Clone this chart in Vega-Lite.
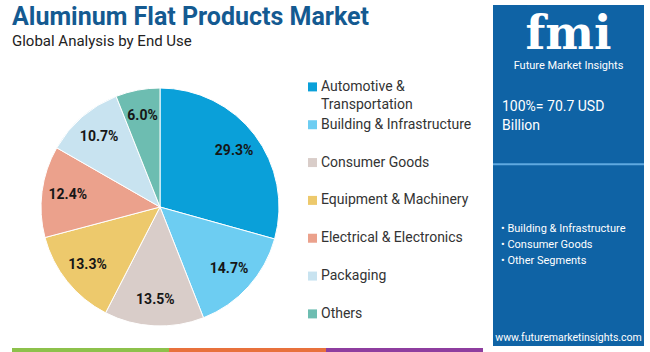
{
  "$schema": "https://vega.github.io/schema/vega-lite/v6.json",
  "padding": {"left": 12, "top": 5, "right": 0, "bottom": 0},
  "background": "white",
  "config": {"view": {"stroke": null}, "font": "Roboto"},
  "resolve": {"scale": {"color": "independent"}},
  "spacing": 9,
  "hconcat": [
    {
      "spacing": 0,
      "resolve": {"scale": {"color": "independent"}},
      "vconcat": [
        {
          "width": 471,
          "height": 61,
          "encoding": {
            "y": {
              "field": "part", "type": "nominal", "axis": null,
              "scale": {"type": "point", "domain": ["title", "subtitle"], "padding": 1.243, "align": 0.5}
            },
            "x": {"value": 0}
          },
          "layer": [
            {
              "data": {"values": [{"part": "title", "text": "Aluminum Flat Products Market"}]},
              "mark": {"type": "text", "align": "left", "baseline": "alphabetic", "font": "Roboto", "fontSize": 25, "fontWeight": "bold", "fill": "#145a91"},
              "encoding": {"text": {"field": "text", "type": "nominal"}}
            },
            {
              "data": {"values": [{"part": "subtitle", "text": "Global Analysis by End Use"}]},
              "mark": {"type": "text", "align": "left", "baseline": "alphabetic", "font": "Roboto", "fontSize": 15, "fill": "#222222"},
              "encoding": {"text": {"field": "text", "type": "nominal"}}
            }
          ]
        },
        {
          "spacing": 0,
          "hconcat": [
            {
              "width": 296,
              "height": 282,
              "data": {"values": [
                {"cat": "Automotive & Transportation", "share": 29.3, "label": "29.3%", "k": 1},
                {"cat": "Building & Infrastructure", "share": 14.7, "label": "14.7%", "k": 2},
                {"cat": "Consumer Goods", "share": 13.5, "label": "13.5%", "k": 3},
                {"cat": "Equipment & Machinery", "share": 13.3, "label": "13.3%", "k": 4},
                {"cat": "Electrical & Electronics", "share": 12.4, "label": "12.4%", "k": 5},
                {"cat": "Packaging", "share": 10.7, "label": "10.7%", "k": 6},
                {"cat": "Others", "share": 6.0, "label": "6.0%", "k": 7}
              ]},
              "encoding": {
                "theta": {"field": "share", "type": "quantitative", "stack": true},
                "order": {"field": "k", "type": "quantitative"}
              },
              "layer": [
                {
                  "mark": {"type": "arc", "outerRadius": 119, "stroke": "#ffffff", "strokeWidth": 1},
                  "encoding": {
                    "color": {
                      "field": "cat", "type": "nominal", "legend": null,
                      "scale": {
                        "domain": ["Automotive & Transportation", "Building & Infrastructure", "Consumer Goods", "Equipment & Machinery", "Electrical & Electronics", "Packaging", "Others"],
                        "range": ["#0aa0d9", "#6dcdf2", "#d9cdc9", "#edc96c", "#eba18c", "#c8e3f0", "#6dbdb1"]
                      }
                    }
                  }
                },
                {
                  "mark": {"type": "text", "radius": 93, "fontSize": 14, "fontWeight": "bold", "font": "Roboto", "fill": "#161616"},
                  "encoding": {"text": {"field": "label", "type": "nominal"}}
                }
              ]
            },
            {
              "width": 175,
              "height": 282,
              "data": {"values": [
                {"cat": "Automotive & Transportation", "legend": "Automotive &\nTransportation"},
                {"cat": "Building & Infrastructure", "legend": "Building & Infrastructure"},
                {"cat": "Consumer Goods", "legend": "Consumer Goods"},
                {"cat": "Equipment & Machinery", "legend": "Equipment & Machinery"},
                {"cat": "Electrical & Electronics", "legend": "Electrical & Electronics"},
                {"cat": "Packaging", "legend": "Packaging"},
                {"cat": "Others", "legend": "Others"}
              ]},
              "encoding": {
                "y": {
                  "field": "cat", "type": "nominal", "axis": null,
                  "scale": {
                    "type": "point",
                    "domain": ["Automotive & Transportation", "Building & Infrastructure", "Consumer Goods", "Equipment & Machinery", "Electrical & Electronics", "Packaging", "Others"],
                    "padding": 0.727,
                    "align": 0.38
                  }
                }
              },
              "layer": [
                {
                  "mark": {"type": "point", "shape": "square", "filled": true, "size": 81, "opacity": 1},
                  "encoding": {
                    "x": {"value": 4.5},
                    "color": {
                      "field": "cat", "type": "nominal", "legend": null,
                      "scale": {
                        "domain": ["Automotive & Transportation", "Building & Infrastructure", "Consumer Goods", "Equipment & Machinery", "Electrical & Electronics", "Packaging", "Others"],
                        "range": ["#0aa0d9", "#6dcdf2", "#d9cdc9", "#edc96c", "#eba18c", "#c8e3f0", "#6dbdb1"]
                      }
                    }
                  }
                },
                {
                  "mark": {"type": "text", "align": "left", "baseline": "alphabetic", "dy": 4, "fontSize": 14, "lineHeight": 18, "lineBreak": "\n", "font": "Roboto", "fill": "#333333"},
                  "encoding": {
                    "x": {"value": 13},
                    "text": {"field": "legend", "type": "nominal"}
                  }
                }
              ]
            }
          ]
        },
        {
          "width": 471,
          "height": 4,
          "data": {"values": [{"seg": "a"}, {"seg": "b"}, {"seg": "c"}]},
          "mark": {"type": "bar"},
          "encoding": {
            "x": {"field": "seg", "type": "nominal", "axis": null, "scale": {"paddingInner": 0, "paddingOuter": 0}},
            "color": {"field": "seg", "type": "nominal", "legend": null, "scale": {"domain": ["a", "b", "c"], "range": ["#8dc14b", "#e8713c", "#8e3e9f"]}}
          }
        }
      ]
    },
    {
      "width": 151,
      "height": 341,
      "view": {"fill": "#0f63a5", "stroke": null},
      "encoding": {
        "y": {
          "field": "item", "type": "nominal", "axis": null,
          "scale": {
            "type": "point", "padding": 0,
            "domain": ["s0", "s1", "s2", "s3", "logo", "s5", "s6", "s7", "brand", "s9", "s10", "s11", "s12", "s13", "total", "s15", "s16", "s17", "s18", "s19", "s20", "sep", "s22", "s23", "s24", "s25", "s26", "s27", "s28", "s29", "bullets", "s31", "s32", "s33", "s34", "s35", "s36", "s37", "s38", "s39", "s40", "s41", "s42", "s43", "url", "s45"]
          }
        }
      },
      "layer": [
        {
          "data": {"values": [{"item": "logo", "text": "fmi"}]},
          "mark": {"type": "text", "baseline": "middle", "font": "DejaVu Serif", "fontWeight": "bold", "fontSize": 46, "fill": "#ffffff"},
          "encoding": {"text": {"field": "text", "type": "nominal"}}
        },
        {
          "data": {"values": [{"item": "brand", "text": "Future Market Insights"}]},
          "mark": {"type": "text", "baseline": "middle", "font": "Roboto", "fontSize": 11, "fill": "#ffffff"},
          "encoding": {"text": {"field": "text", "type": "nominal"}}
        },
        {
          "data": {"values": [{"item": "total", "text": "100%= 70.7 USD\nBillion"}]},
          "mark": {"type": "text", "align": "left", "baseline": "alphabetic", "dx": 9, "font": "Roboto", "fontSize": 14, "lineHeight": 19, "lineBreak": "\n", "fill": "#ffffff"},
          "encoding": {"x": {"value": 0}, "text": {"field": "text", "type": "nominal"}}
        },
        {
          "data": {"values": [{"item": "sep"}]},
          "mark": {"type": "rule", "stroke": "#5fa9e0", "strokeWidth": 2},
          "encoding": {}
        },
        {
          "data": {"values": [{"item": "bullets", "text": "• Building & Infrastructure\n• Consumer Goods\n• Other Segments"}]},
          "mark": {"type": "text", "align": "left", "baseline": "alphabetic", "dx": 8, "font": "Roboto", "fontSize": 11, "lineHeight": 16, "lineBreak": "\n", "fill": "#ffffff"},
          "encoding": {"x": {"value": 0}, "text": {"field": "text", "type": "nominal"}}
        },
        {
          "data": {"values": [{"item": "url", "text": "www.futuremarketinsights.com"}]},
          "mark": {"type": "text", "baseline": "middle", "font": "Roboto", "fontSize": 10.5, "fill": "#ffffff"},
          "encoding": {"text": {"field": "text", "type": "nominal"}}
        }
      ]
    }
  ]
}
